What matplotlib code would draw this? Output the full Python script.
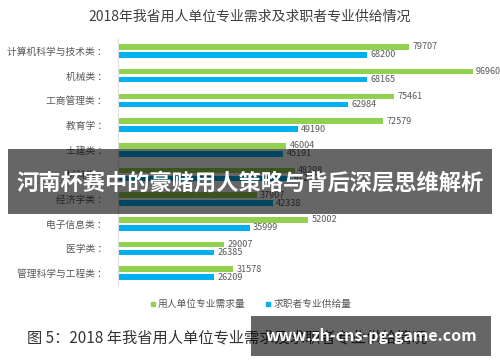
import matplotlib
matplotlib.use('Agg')
import matplotlib.pyplot as plt
from matplotlib.patches import Rectangle
from matplotlib.lines import Line2D
import numpy as np

plt.rcParams['font.family'] = ['Noto Sans CJK SC', 'DejaVu Sans']

categories = ['计算机科学与技术类', '机械类', '工商管理类', '教育学', '土建类',
              '材料类', '经济学类', '电子信息类', '医学类', '管理科学与工程类']
demand = [79707, 96960, 75461, 72579, 46004, 48298, 37907, 52002, 29007, 31578]
supply = [68200, 68165, 62984, 49190, 45191, 47270, 42338, 35999, 26385, 26209]

green = '#92D050'
blue = '#00B0F0'
grey_txt = '#595959'

fig = plt.figure(figsize=(5, 3.62), dpi=100)
ax = fig.add_axes([0.236, 0.2113, 0.724, 0.682])

y = np.arange(len(categories))
off = 0.162
h = 0.23
ax.barh(y - off, demand, height=h, color=green)
ax.barh(y + off, supply, height=h, color=blue)

for i in range(len(categories)):
    ax.text(demand[i] + 900, y[i] - off, str(demand[i]), va='center', ha='left',
            fontsize=6.5, color=grey_txt)
    ax.text(supply[i] + 900, y[i] + off, str(supply[i]), va='center', ha='left',
            fontsize=6.5, color=grey_txt)

ax.set_xlim(0, 99000)
ax.set_ylim(len(categories) - 0.5, -0.5)
ax.set_yticks(y)
ax.set_yticklabels([c + ' ：' for c in categories], fontsize=7, color=grey_txt)
ax.tick_params(axis='y', length=0, pad=8)
ax.set_xticks([])
for s in ['top', 'right', 'bottom']:
    ax.spines[s].set_visible(False)
ax.spines['left'].set_color('#e0e0e0')
ax.spines['left'].set_linewidth(0.8)

fig.text(0.5, 1 - 17 / 362, '2018年我省用人单位专业需求及求职者专业供给情况',
         ha='center', va='center', fontsize=10, color='#404040')

handles = [Line2D([], [], marker='s', color=green, linestyle='', markersize=3.5),
           Line2D([], [], marker='s', color=blue, linestyle='', markersize=3.5)]
leg = fig.legend(handles, ['用人单位专业需求量', '求职者专业供给量'], loc='center',
                 bbox_to_anchor=(0.5, 1 - 304 / 362), ncol=2, frameon=False,
                 fontsize=7, handletextpad=0.1, columnspacing=2.0, handlelength=0.8)
for t in leg.get_texts():
    t.set_color(grey_txt)

fig.text(27 / 500, 1 - 338 / 362, '图 5：2018 年我省用人单位专业需求及求职者专业供给情况',
         ha='left', va='center', fontsize=11, color='#333333')

# overlay banner
fig.patches.append(Rectangle((8 / 500, 1 - 214 / 362), 484 / 500, 65 / 362,
                             transform=fig.transFigure, facecolor='black',
                             alpha=0.6, edgecolor='none', zorder=5))
fig.text(0.5, 1 - 184 / 362, '河南杯赛中的豪赌用人策略与背后深层思维解析',
         ha='center', va='center', fontsize=16, color='white',
         fontweight='bold', zorder=6)

# watermark box
fig.patches.append(Rectangle((251 / 500, 1 - 356 / 362), 240 / 500, 40 / 362,
                             transform=fig.transFigure, facecolor='black',
                             alpha=0.6, edgecolor='none', zorder=5))
fig.text(371 / 500, 1 - 336 / 362, 'www.zh-cns-pg-game.com', ha='center',
         va='center', fontsize=11.5, color='white', fontweight='bold', zorder=6)

fig.savefig('out.png', dpi=100)
